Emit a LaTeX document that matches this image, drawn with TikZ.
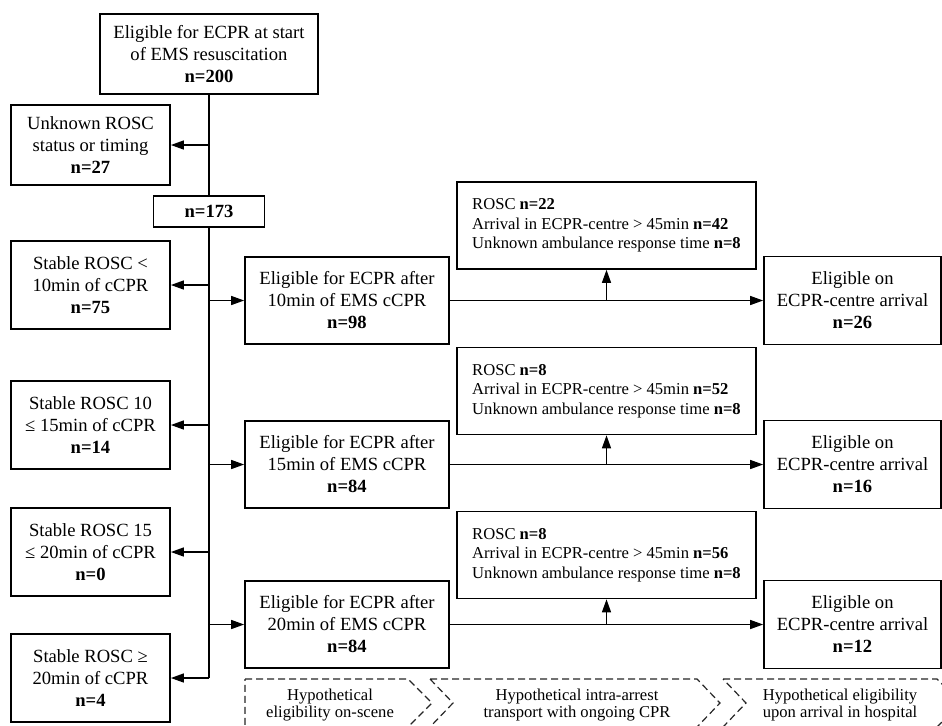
\documentclass[tikz,border=0pt]{standalone}
\usepackage{fontspec}
\setmainfont{Liberation Serif}
\usetikzlibrary{arrows,arrows.meta,positioning,calc}
\newcommand{\boxfont}{\fontsize{9.3}{11}\selectfont}
\newcommand{\smallboxfont}{\fontsize{8.3}{9.75}\selectfont}
\newcommand{\phasefont}{\fontsize{8.3}{8.9}\selectfont}

\begin{document}
\begin{tikzpicture}[x=0.5pt, y=-0.5pt, -{Triangle[length=6.5pt,width=4.5pt]}, semithick]
\tikzstyle{box}=[draw=black,line width=0.85pt,fill=white,text=black,align=center,font=\boxfont,inner sep=0pt]
\tikzstyle{side}=[box,minimum width=79.5pt,minimum height=44pt]
\tikzstyle{elig}=[box,minimum width=102pt,minimum height=43.5pt]
\tikzstyle{excl}=[box,minimum width=149.5pt,minimum height=43.5pt,align=left,font=\smallboxfont]
\tikzstyle{arrive}=[box,minimum width=88.5pt,minimum height=44pt]
\tikzstyle{chev}=[-,draw=black!85,semithick,dash pattern=on 3.5pt off 2pt]
\tikzstyle{chevtext}=[align=center,font=\phasefont,inner sep=0pt]
\tikzstyle{every edge}=[draw,line width=0.7pt]
\clip (0,0) rectangle (942,725);
\fill[white] (0,0) rectangle (942,725);

% trunk
\node[box,minimum width=109pt,minimum height=40pt] (start) at (209,54) {Eligible for ECPR at start\\of EMS resuscitation\\\textbf{n=200}};
\node[box,minimum width=79.5pt,minimum height=40pt] (unknown) at (90.5,145) {Unknown ROSC\\status or timing\\\textbf{n=27}};
\node[box,minimum width=55.5pt,minimum height=15.5pt] (n173) at (209,211.5) {\textbf{n=173}};

% left column
\node[side] (rosc10) at (90.5,285) {Stable ROSC <\\10min of cCPR\\\textbf{n=75}};
\node[side] (rosc15) at (90.5,425) {Stable ROSC 10\\≤ 15min of cCPR\\\textbf{n=14}};
\node[side] (rosc20) at (90.5,552) {Stable ROSC 15\\≤ 20min of cCPR\\\textbf{n=0}};
\node[side] (roscover) at (90.5,678) {Stable ROSC ≥\\20min of cCPR\\\textbf{n=4}};

% eligible after x min
\node[elig] (elig10) at (347,300.5) {Eligible for ECPR after\\10min of EMS cCPR\\\textbf{n=98}};
\node[elig] (elig15) at (347,464.5) {Eligible for ECPR after\\15min of EMS cCPR\\\textbf{n=84}};
\node[elig] (elig20) at (347,624.5) {Eligible for ECPR after\\20min of EMS cCPR\\\textbf{n=84}};

% exclusions
\node[excl] (excl10) at (606.5,225.5) {ROSC \textbf{n=22}\\Arrival in ECPR-centre > 45min \textbf{n=42}\\Unknown ambulance response time \textbf{n=8}};
\node[excl] (excl15) at (606.5,391) {ROSC \textbf{n=8}\\Arrival in ECPR-centre > 45min \textbf{n=52}\\Unknown ambulance response time \textbf{n=8}};
\node[excl] (excl20) at (606.5,555) {ROSC \textbf{n=8}\\Arrival in ECPR-centre > 45min \textbf{n=56}\\Unknown ambulance response time \textbf{n=8}};

% arrival
\node[arrive] (arr10) at (852.5,300.5) {Eligible on\\ECPR-centre arrival\\\textbf{n=26}};
\node[arrive] (arr15) at (852.5,464.5) {Eligible on\\ECPR-centre arrival\\\textbf{n=16}};
\node[arrive] (arr20) at (852.5,624.5) {Eligible on\\ECPR-centre arrival\\\textbf{n=12}};

\coordinate (t1) at (start.south |- unknown.east);
\coordinate (t2) at (start.south |- rosc10.east);
\coordinate (t3) at (start.south |- elig10.west);
\coordinate (t4) at (start.south |- rosc15.east);
\coordinate (t5) at (start.south |- elig15.west);
\coordinate (t6) at (start.south |- rosc20.east);
\coordinate (t7) at (start.south |- elig20.west);
\coordinate (t8) at (start.south |- roscover.east);
\coordinate (u10) at (excl10.south |- elig10.east);
\coordinate (u15) at (excl15.south |- elig15.east);
\coordinate (u20) at (excl20.south |- elig20.east);

\draw[-,line width=0.7pt] (start) -- (n173);
\draw[-,line width=0.7pt] (n173) -- (t8);
\path
(t1) edge (unknown)
(t2) edge (rosc10)
(t3) edge (elig10)
(t4) edge (rosc15)
(t5) edge (elig15)
(t6) edge (rosc20)
(t7) edge (elig20)
(t8) edge (roscover)
(elig10) edge (arr10)
(elig15) edge (arr15)
(elig20) edge (arr20)
(u10) edge (excl10)
(u15) edge (excl15)
(u20) edge (excl20);

% phases
\draw[chev] (245,679) -- (408,679) -- (432,703) -- (408,727) -- (245,727) -- cycle;
\draw[chev] (430,679) -- (697,679) -- (720,703) -- (697,727) -- (430,727) -- (453,703) -- cycle;
\draw[chev] (723,679) -- (937,679) -- (961,703) -- (937,727) -- (723,727) -- (746,703) -- cycle;
\node[chevtext] (phase1) at (330,705) {Hypothetical\\eligibility on-scene};
\node[chevtext] (phase2) at (577,705) {Hypothetical intra-arrest\\transport with ongoing CPR};
\node[chevtext] (phase3) at (840,705) {Hypothetical eligibility\\upon arrival in hospital};
\end{tikzpicture}
\end{document}
